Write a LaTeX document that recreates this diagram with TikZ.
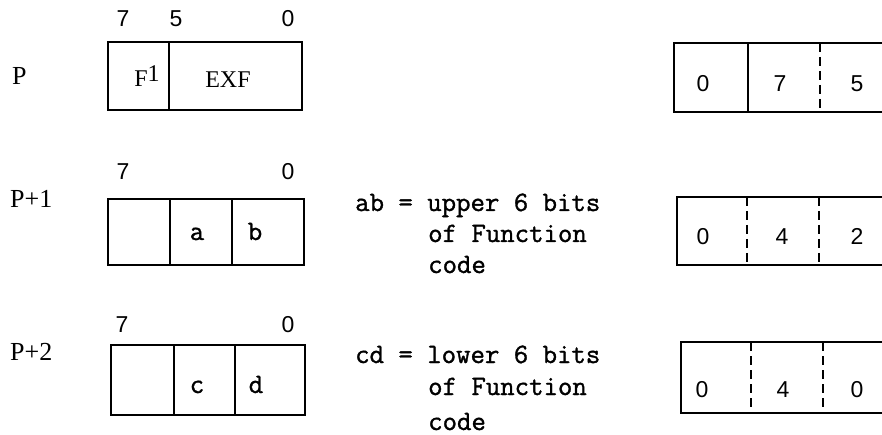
\documentclass[tikz,border=0pt]{standalone}
\usepackage{fontspec}
\setmainfont{Liberation Serif}
\setsansfont{Liberation Sans}
\setmonofont{Latin Modern Mono}[FakeBold=1.2]
\usetikzlibrary{positioning}

\tikzset{
  field/.style={line width=2.2pt},
  fieldsep/.style={line width=1.6pt},
  dashsep/.style={line width=1.6pt, dash pattern=on 9pt off 5pt},
  bitnum/.style={anchor=base, inner sep=0pt, font=\sffamily\fontsize{23}{26}\selectfont},
  wordlbl/.style={anchor=base west, inner sep=0pt, font=\rmfamily\fontsize{26}{30}\selectfont},
  fieldlbl/.style={anchor=base, inner sep=0pt, font=\rmfamily\fontsize{24}{28}\selectfont},
  bitlbl/.style={anchor=base, inner sep=0pt, font=\ttfamily\fontsize{28}{32}\selectfont},
  note/.style={anchor=base west, inner sep=0pt, font=\ttfamily\fontsize{28}{32}\selectfont}
}

\begin{document}
\begin{tikzpicture}[x=1pt, y=-1pt]
  \useasboundingbox (0,0) rectangle (882,435);
  % Row tops and bottoms (pixels, y down)
  \def\yAt{42}  \def\yAb{110}
  \def\yBt{199} \def\yBb{265}
  \def\yCt{345} \def\yCb{415}

  % Word labels
  \node[wordlbl] (wP)  at (12,85)  {P};
  \node[wordlbl] (wP1) at (10,208) {P+1};
  \node[wordlbl] (wP2) at (10,360) {P+2};

  % Bit numbers above the words
  \node[bitnum] (nA7) at (123,27) {7};
  \node[bitnum] (nA5) at (176,27) {5};
  \node[bitnum] (nA0) at (288,27) {0};
  \node[bitnum] (nB7) at (123,180) {7};
  \node[bitnum] (nB0) at (288,180) {0};
  \node[bitnum] (nC7) at (122,332) {7};
  \node[bitnum] (nC0) at (288,332) {0};

  % Word P: F1 | EXF
  \draw[field] (108,\yAt) rectangle (302,\yAb);
  \draw[fieldsep] (169,\yAt) -- (169,\yAb);
  \node[fieldlbl] (fF)   at (147,87) {F\raisebox{5pt}{1}};
  \node[fieldlbl] (fEXF) at (228,88) {EXF};

  % Word P+1: - | a | b
  \draw[field] (108,\yBt) rectangle (304,\yBb);
  \foreach \x in {170,232} {
    \draw[fieldsep] (\x,\yBt) -- (\x,\yBb);
  }
  \node[bitlbl] (fa) at (197,240) {a};
  \node[bitlbl] (fb) at (255,240) {b};

  % Word P+2: - | c | d
  \draw[field] (111,\yCt) rectangle (305,\yCb);
  \foreach \x in {174,235} {
    \draw[fieldsep] (\x,\yCt) -- (\x,\yCb);
  }
  \node[bitlbl] (fc) at (197,393) {c};
  \node[bitlbl] (fd) at (256,393) {d};

  % Notes
  \node[note] (ab)  at (355,211) {ab = upper 6 bits};
  \node[note] (ab2) at (428,242) {of Function};
  \node[note] (ab3) at (428,273) {code};
  \node[note] (cd)  at (355,363) {cd = lower 6 bits};
  \node[note] (cd2) at (428,395) {of Function};
  \node[note] (cd3) at (428,430) {code};

  % Octal words on the right (open at the page edge)
  \draw[field] (882,43) -- (674,43) -- (674,112) -- (882,112);
  \draw[fieldsep] (748,43) -- (748,112);
  \draw[dashsep] (820,43) -- (820,112);
  \draw[field] (882,197) -- (677,197) -- (677,265) -- (882,265);
  \foreach \x in {747,819} {
    \draw[dashsep] (\x,197) -- (\x,265);
  }
  \draw[field] (882,342) -- (681,342) -- (681,413) -- (882,413);
  \foreach \x in {751,823} {
    \draw[dashsep] (\x,342) -- (\x,413);
  }

  \foreach \x/\d/\n in {703/0/a, 780/7/b, 857/5/c} {
    \node[bitnum] (oA\n) at (\x,92) {\d};
  }
  \foreach \x/\d/\n in {703/0/a, 782/4/b, 857/2/c} {
    \node[bitnum] (oB\n) at (\x,245) {\d};
  }
  \foreach \x/\d/\n in {702/0/a, 783/4/b, 857/0/c} {
    \node[bitnum] (oC\n) at (\x,397) {\d};
  }
\end{tikzpicture}
\end{document}
